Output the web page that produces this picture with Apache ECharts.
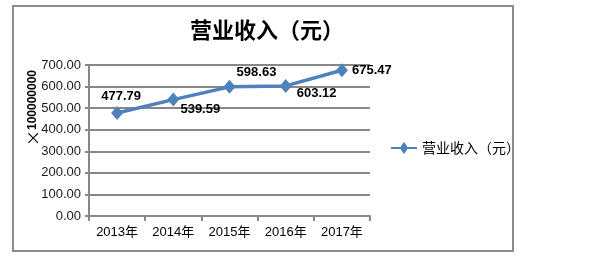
<!DOCTYPE html>
<html><head><meta charset="utf-8">
<script src="https://cdn.jsdelivr.net/npm/echarts@6/dist/echarts.min.js"></script>
<style>html,body{margin:0;padding:0;background:#fff}#c{width:592px;height:256px}</style>
</head><body><div id="c"></div>
<script>
var categories = ['2013年','2014年','2015年','2016年','2017年'];
var values = [477.79, 539.59, 598.63, 603.12, 675.47];
var seriesName = '营业收入（元）';
var titleText = '营业收入（元）';
var yAxisSign = '×';
var yAxisUnit = '100000000';
var yTicks = [0,100,200,300,400,500,600,700];

var labelOffsets = [[4,-17],[27,10],[27,-14],[31,8],[30,0]];
var font = '"Liberation Sans", "Noto Sans CJK SC", sans-serif';
var chart = echarts.init(document.getElementById('c'));
chart.setOption({
  animation:false,
  backgroundColor:'#fff',
  graphic:[
    {type:'rect',shape:{x:13,y:6,width:500,height:245},style:{fill:'none',stroke:'#8c8c8c',lineWidth:2},z:-1},
    {type:'text',x:33,y:108,rotation:Math.PI/2,style:{text:'{a|'+yAxisSign+'}{b|'+yAxisUnit+'}',
      rich:{a:{fontFamily:'"Noto Sans CJK SC", sans-serif',fontSize:16,fill:'#000',fontWeight:'normal'},
            b:{fontFamily:'"Liberation Sans", sans-serif',fontSize:12,fontWeight:'bold',fill:'#000'}},
      align:'center',verticalAlign:'middle'}}
  ],
  title:{text:titleText,left:262,top:14,textAlign:'center',textStyle:{fontFamily:'"Noto Sans CJK SC", sans-serif',fontSize:22,fontWeight:'bold',color:'#000'}},
  legend:{left:386,top:136,itemWidth:26,itemHeight:12,itemGap:4,
    data:[{name:seriesName,icon:'path://M0,5 L10,5 L10,4 L13,0 L16,4 L16,5 L26,5 L26,7 L16,7 L16,8 L13,12 L10,8 L10,7 L0,7 Z'}],
    textStyle:{fontFamily:'"Noto Sans CJK SC", sans-serif',fontSize:14,color:'#000'}},
  grid:{left:89,right:222,top:65,bottom:40,containLabel:false},
  xAxis:{type:'category',data:categories,boundaryGap:true,
    axisLine:{lineStyle:{color:'#888',width:2}},
    axisTick:{show:true,length:5,lineStyle:{color:'#888',width:2}},
    axisLabel:{fontFamily:font,fontSize:13,color:'#000',margin:10,interval:0}},
  yAxis:{type:'value',min:0,max:700,interval:100,
    axisLine:{show:true,lineStyle:{color:'#888',width:2}},
    axisTick:{show:true,length:4,lineStyle:{color:'#888',width:2}},
    splitLine:{lineStyle:{color:'#888',width:2}},
    axisLabel:{fontFamily:font,fontSize:13,color:'#1a1a2a',margin:8,formatter:function(v){return v.toFixed(2);}}},
  series:[{name:seriesName,type:'line',
    data:values.map(function(v,i){return {value:v,label:{offset:labelOffsets[i]}};}),
    symbol:'diamond',symbolSize:[12,14],
    lineStyle:{color:'#4f81bd',width:3.5},itemStyle:{color:'#4f81bd'},
    label:{show:true,position:'inside',fontFamily:font,fontSize:13,fontWeight:'bold',color:'#000',
      formatter:function(p){return p.value.toFixed(2);}}
  }]
});
</script></body></html>
